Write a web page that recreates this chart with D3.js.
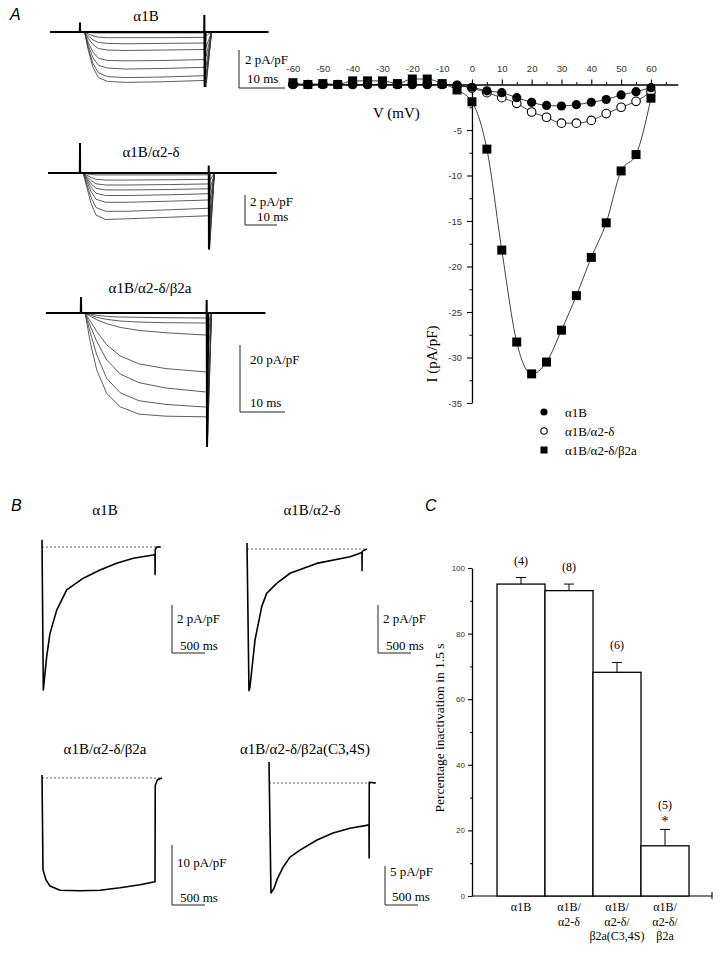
<!DOCTYPE html>
<html>
<head>
<meta charset="utf-8">
<script src="https://cdn.jsdelivr.net/npm/d3@7"></script>
<style>
  body { margin: 0; background: #fff; }
  svg { display: block; }
</style>
</head>
<body>
<svg id="fig" width="720" height="955"></svg>
<script>
// ---------- data ----------

// A: families of current traces, time in ms, current in pA/pF
const a1Time = [1, 1.8, 2.8, 4, 6, 10, 18, 27, 27.4, 28.6];
const a1Traces = [
  [0, -0.02, -0.04, -0.05, -0.05, -0.05, -0.05, -0.05, -0.2, 0],
  [0, -0.1, -0.2, -0.27, -0.3, -0.3, -0.3, -0.28, -0.8, 0],
  [0, -0.2, -0.42, -0.55, -0.6, -0.62, -0.6, -0.58, -1.3, 0],
  [0, -0.33, -0.66, -0.87, -0.95, -0.97, -0.95, -0.92, -1.8, 0],
  [0, -0.55, -1.05, -1.38, -1.5, -1.52, -1.5, -1.45, -2.2, 0],
  [0, -0.7, -1.35, -1.75, -1.9, -1.95, -1.92, -1.86, -2.5, 0],
  [0, -0.85, -1.65, -2.15, -2.35, -2.4, -2.37, -2.3, -2.7, 0],
  [0, -0.95, -1.85, -2.4, -2.6, -2.65, -2.62, -2.55, -2.9, 0]
];
const a1Base = [[-6.5, 0], [-0.05, 0], [0, 0.5], [0.05, 0], [27, 0], [27.03, 0.9], [27.1, -2.9], [27.3, 0], [41, 0]];

const a2Time = [1, 2.2, 3.5, 5, 8, 15, 28, 40.2, 40.5, 42];
const a2Traces = [
  [0, -0.05, -0.1, -0.13, -0.13, -0.13, -0.13, -0.12, -0.5, 0],
  [0, -0.15, -0.3, -0.42, -0.47, -0.47, -0.45, -0.42, -1.2, 0],
  [0, -0.25, -0.5, -0.72, -0.8, -0.8, -0.77, -0.73, -2, 0],
  [0, -0.35, -0.72, -1.02, -1.13, -1.13, -1.1, -1.05, -2.8, 0],
  [0, -0.45, -0.95, -1.35, -1.5, -1.5, -1.45, -1.38, -3.5, 0],
  [0, -0.6, -1.25, -1.75, -1.95, -1.95, -1.88, -1.8, -4.2, 0],
  [0, -0.8, -1.65, -2.3, -2.55, -2.55, -2.45, -2.35, -4.8, 0],
  [0, -1.0, -2.05, -2.8, -3.1, -3.05, -2.95, -2.85, -5.1, 0]
];
const a2Base = [[-10, 0], [-0.05, 0], [0, 2], [0.05, 0], [40.2, 0], [40.23, 0.5], [40.3, -5.1], [40.5, 0], [61.5, 0]];

const a3Time = [0.9, 2.1, 3.5, 5.7, 8.7, 12.9, 18.9, 27.9, 28.1, 29];
const a3Traces = [
  [0, -0.3, -0.7, -1.0, -1.2, -1.3, -1.4, -1.5, -4, 0],
  [0, -0.6, -1.3, -1.9, -2.4, -2.7, -2.9, -3.0, -8, 0],
  [0, -1.0, -2.0, -3.2, -4.3, -5.2, -5.9, -6.6, -15, 0],
  [0, -2.5, -5.5, -9.5, -12.8, -15.2, -16.6, -17.6, -28, 0],
  [0, -4, -8.5, -14, -18.2, -20.8, -22.4, -23.6, -34, 0],
  [0, -6, -12.5, -19.5, -23.8, -26.2, -27.3, -28.1, -38, 0],
  [0, -9, -17, -24, -28, -30.2, -30.8, -31, -40, 0]
];
const a3Base = [[-7.8, 0], [-0.05, 0], [0, 4.8], [0.05, 0], [27.9, 0], [27.93, 3.9], [28.0, -40], [28.3, 0], [41, 0]];

// A: current-voltage relation
const ivVolt = [-60, -55, -50, -45, -40, -35, -30, -25, -20, -15, -10, -5, 0, 5, 10, 15, 20, 25, 30, 35, 40, 45, 50, 55, 60];
const ivA1B = [0, 0, 0, 0, 0, 0, 0, 0, 0, 0, 0, -0.1, -0.3, -0.7, -0.9, -1.45, -1.96, -2.3, -2.36, -2.22, -1.95, -1.65, -1.15, -0.79, -0.35];
const ivA2d = [0, 0, 0, 0, 0, 0, 0, 0, 0, 0, 0, -0.1, -0.4, -0.9, -1.45, -2.07, -3.02, -3.6, -4.25, -4.25, -3.95, -3.2, -2.5, -1.85, -0.8];
const ivB2a = [0.2, 0, 0.1, 0, 0.4, 0.4, 0.4, 0.1, 0.6, 0.6, 0.1, -0.6, -1.9, -7.1, -18.2, -28.3, -31.8, -30.5, -27.0, -23.2, -19.0, -15.2, -9.5, -7.7, -1.5];
const ivMajor = [-60, -50, -40, -30, -20, -10, 0, 10, 20, 30, 40, 50, 60];
const ivMinor = [-55, -45, -35, -25, -15, -5, 5, 15, 25, 35, 45, 55, 65];
const iMajor = [-5, -10, -15, -20, -25, -30, -35];
const iMinor = [-2.5, -7.5, -12.5, -17.5, -22.5, -27.5, -32.5];
const ivNames = ["α1B", "α1B/α2-δ", "α1B/α2-δ/β2a"];

// B: 1.5 s test pulses, time in ms, current in pA/pF
const b1Trace = [[0, 0.3], [20, -5.96], [71, -4.57], [121, -3.6], [223, -2.63], [374, -1.79], [626, -1.3], [879, -0.96],
  [1131, -0.68], [1383, -0.47], [1687, -0.33], [1712, -0.3], [1713, -1.15], [1716, -0.1], [1740, 0], [1800, 0]];
const b2Trace = [[0, 0.25], [30, -5.9], [45, -5.75], [121, -3.8], [223, -2.4], [298, -1.85], [450, -1.43], [652, -1.01],
  [1056, -0.6], [1561, -0.32], [1742, -0.15], [1743, -0.9], [1745, -0.1], [1815, 0]];
const b3Trace = [[0, 0.5], [15, -15.3], [61, -17], [121, -18], [273, -18.7], [576, -18.8], [879, -18.7], [1182, -18.3],
  [1485, -17.8], [1712, -17.3], [1716, -1.2], [1750, -0.3], [1818, 0]];
const b4Trace = [[0, 2.7], [30, -14.1], [76, -13.5], [121, -12.4], [212, -10.8], [318, -9.5], [470, -8.6], [727, -7.3],
  [970, -6.4], [1227, -5.8], [1500, -5.4], [1515, -5.4], [1517, -9.6], [1519, 0.1], [1620, 0]];

// C: percentage inactivation in 1.5 s
const barLines = [["α1B"], ["α1B/", "α2-δ"], ["α1B/", "α2-δ/", "β2a(C3,4S)"], ["α1B/", "α2-δ/", "β2a"]];
const barCats = ["α1B", "α1B/α2-δ", "α1B/α2-δ/β2a(C3,4S)", "α1B/α2-δ/β2a"];
const inact = [95.1, 93.1, 68.2, 15.3];
const inactErr = [2.0, 2.0, 3.0, 5.0];
const nCells = ["(4)", "(8)", "(6)", "(5)"];
const signif = ["", "", "", "*"];
const pctMajor = [0, 20, 40, 60, 80, 100];
const pctMinor = [10, 30, 50, 70, 90];

// ---------- drawing ----------
const serif = '"Liberation Serif", "Times New Roman", serif';
const sans = '"Liberation Sans", Arial, sans-serif';
const svg = d3.select("#fig");

function txt(g, x, y, s, size, opt = {}) {
  return g.append("text").attr("x", x).attr("y", y)
    .attr("font-family", opt.family || serif)
    .attr("font-size", size)
    .attr("font-style", opt.style || "normal")
    .attr("text-anchor", opt.anchor || "start")
    .attr("fill", opt.fill || "#000")
    .text(s);
}

function drawLine(g, pts, xs, ys, width, color, dash) {
  const p = g.append("path").datum(pts)
    .attr("fill", "none").attr("stroke", color).attr("stroke-width", width)
    .attr("stroke-linejoin", "round")
    .attr("d", d3.line().x(d => xs(d[0])).y(d => ys(d[1])));
  if (dash) p.attr("stroke-dasharray", dash);
  return p;
}

function scaleBar(g, xs, ys, b) {
  const h = ys(-b.dI) - ys(0), w = xs(b.dt) - xs(0);
  g.append("path")
    .attr("d", `M${b.x},${b.y - h}V${b.y}H${b.x + w}`)
    .attr("fill", "none").attr("stroke", "#222").attr("stroke-width", 1);
  txt(g, b.l1x, b.l1y, b.lab1, 13);
  txt(g, b.l2x, b.l2y, b.lab2, 13);
}

// panel letters
txt(svg, 10, 20, "A", 16, { family: sans, style: "italic" });
txt(svg, 11, 511, "B", 16, { family: sans, style: "italic" });
txt(svg, 425, 511, "C", 16, { family: sans, style: "italic" });

// ----- A traces -----
const panelsA = [
  { title: "α1B", tx: 146, ty: 21, time: a1Time, traces: a1Traces, base: a1Base,
    xs: d3.scaleLinear().domain([0, 10]).range([80, 126]),
    ys: d3.scaleLinear().domain([0, -2]).range([32, 70]),
    bar: { x: 239, y: 88, dt: 10, dI: 2, lab1: "2 pA/pF", l1x: 245, l1y: 64, lab2: "10 ms", l2x: 247, l2y: 83 } },
  { title: "α1B/α2-δ", tx: 151, ty: 157, time: a2Time, traces: a2Traces, base: a2Base,
    xs: d3.scaleLinear().domain([0, 10]).range([80, 112]),
    ys: d3.scaleLinear().domain([0, -2]).range([173, 203]),
    bar: { x: 245, y: 225, dt: 10, dI: 2, lab1: "2 pA/pF", l1x: 250, l1y: 206, lab2: "10 ms", l2x: 257, l2y: 221 } },
  { title: "α1B/α2-δ/β2a", tx: 150, ty: 293, time: a3Time, traces: a3Traces, base: a3Base,
    xs: d3.scaleLinear().domain([0, 10]).range([81, 126]),
    ys: d3.scaleLinear().domain([0, -20]).range([313, 380]),
    bar: { x: 240, y: 412, dt: 10, dI: 20, lab1: "20 pA/pF", l1x: 250, l1y: 364, lab2: "10 ms", l2x: 250, l2y: 407 } }
];

panelsA.forEach(p => {
  const g = svg.append("g");
  txt(g, p.tx, p.ty, p.title, 15, { anchor: "middle" });
  p.traces.forEach(tr => {
    drawLine(g, p.time.map((t, i) => [t, tr[i]]), p.xs, p.ys, 0.8, "#333");
  });
  drawLine(g, p.base, p.xs, p.ys, 2, "#000").attr("stroke-linejoin", "miter").attr("stroke-miterlimit", 1);
  scaleBar(g, p.xs, p.ys, p.bar);
});

// ----- A: I-V plot -----
const X = d3.scaleLinear().domain([-61, 69]).range([290, 677.8]);
const Y = d3.scaleLinear().domain([0, -35]).range([84.5, 403]);
const gIV = svg.append("g");

function styleAxis(sel, size) {
  sel.select(".domain").attr("stroke", "#000").attr("stroke-width", 1.3);
  sel.selectAll(".tick line").attr("stroke", "#000").attr("stroke-width", 1.1);
  sel.selectAll(".tick text").attr("font-family", sans).attr("font-size", size).attr("fill", "#333");
}

gIV.append("g").attr("transform", `translate(0,${Y(0)})`)
  .call(d3.axisTop(X).tickValues(ivMinor).tickSize(2.5).tickFormat(""))
  .call(s => { s.select(".domain").remove(); s.selectAll("line").attr("stroke", "#000"); });
gIV.append("g").attr("transform", `translate(0,${Y(0)})`)
  .call(d3.axisTop(X).tickValues(ivMajor).tickSize(5).tickSizeOuter(0).tickPadding(8).tickFormat(d => String(d)))
  .call(s => styleAxis(s, 9.5));
gIV.append("g").attr("transform", `translate(${X(0)},0)`)
  .call(d3.axisLeft(Y).tickValues(iMinor).tickSize(2.5).tickFormat(""))
  .call(s => { s.select(".domain").remove(); s.selectAll("line").attr("stroke", "#000"); });
gIV.append("g").attr("transform", `translate(${X(0)},0)`)
  .call(d3.axisLeft(Y).tickValues(iMajor).tickSize(5).tickSizeOuter(0).tickPadding(5).tickFormat(d => String(d)))
  .call(s => styleAxis(s, 9.5));

txt(gIV, 373, 118, "V (mV)", 15);
gIV.append("text")
  .attr("transform", `translate(437,354) rotate(-90)`)
  .attr("text-anchor", "middle").attr("font-family", serif).attr("font-size", 15)
  .text("I (pA/pF)");

const ivSeries = [ivA2d, ivA1B, ivB2a];
const ivLine = d3.line().x(d => X(d[0])).y(d => Y(d[1])).curve(d3.curveMonotoneX);
ivSeries.forEach(s => {
  gIV.append("path").datum(ivVolt.map((v, i) => [v, s[i]]))
    .attr("fill", "none").attr("stroke", "#111").attr("stroke-width", 0.8).attr("d", ivLine);
});
gIV.selectAll("circle.open").data(ivVolt.map((v, i) => [v, ivA2d[i]])).join("circle")
  .attr("class", "open").attr("cx", d => X(d[0])).attr("cy", d => Y(d[1])).attr("r", 4.3)
  .attr("fill", "#fff").attr("stroke", "#000").attr("stroke-width", 1.1);
gIV.selectAll("circle.fill").data(ivVolt.map((v, i) => [v, ivA1B[i]])).join("circle")
  .attr("class", "fill").attr("cx", d => X(d[0])).attr("cy", d => Y(d[1])).attr("r", 4.6)
  .attr("fill", "#000");
gIV.selectAll("rect.sq").data(ivVolt.map((v, i) => [v, ivB2a[i]])).join("rect")
  .attr("class", "sq").attr("x", d => X(d[0]) - 4.5).attr("y", d => Y(d[1]) - 4.5)
  .attr("width", 9).attr("height", 9).attr("fill", "#000");

// legend
const legY = d3.scalePoint().domain(ivNames).range([412, 450]);
const gLeg = gIV.append("g");
gLeg.append("circle").attr("cx", 544).attr("cy", legY(ivNames[0])).attr("r", 3.6).attr("fill", "#000");
gLeg.append("circle").attr("cx", 544).attr("cy", legY(ivNames[1])).attr("r", 3.2)
  .attr("fill", "#fff").attr("stroke", "#000").attr("stroke-width", 1.1);
gLeg.append("rect").attr("x", 540.5).attr("y", legY(ivNames[2]) - 3.5).attr("width", 7).attr("height", 7).attr("fill", "#000");
ivNames.forEach(n => txt(gLeg, 565, legY(n) + 4.5, n, 13));

// ----- B traces -----
const panelsB = [
  { title: "α1B", tx: 105, ty: 515, trace: b1Trace,
    xs: d3.scaleLinear().domain([0, 500]).range([42, 75]),
    ys: d3.scaleLinear().domain([0, -2]).range([547, 595]),
    bar: { x: 172, y: 653, dt: 500, dI: 2, lab1: "2 pA/pF", l1x: 177, l1y: 623, lab2: "500 ms", l2x: 180, l2y: 650 } },
  { title: "α1B/α2-δ", tx: 312, ty: 515, trace: b2Trace,
    xs: d3.scaleLinear().domain([0, 500]).range([247, 280]),
    ys: d3.scaleLinear().domain([0, -2]).range([549, 597]),
    bar: { x: 378, y: 653, dt: 500, dI: 2, lab1: "2 pA/pF", l1x: 383, l1y: 623, lab2: "500 ms", l2x: 386, l2y: 650 } },
  { title: "α1B/α2-δ/β2a", tx: 105, ty: 754, trace: b3Trace,
    xs: d3.scaleLinear().domain([0, 500]).range([42, 75]),
    ys: d3.scaleLinear().domain([0, -10]).range([778, 838]),
    bar: { x: 172, y: 905, dt: 500, dI: 10, lab1: "10 pA/pF", l1x: 177, l1y: 867, lab2: "500 ms", l2x: 180, l2y: 902 } },
  { title: "α1B/α2-δ/β2a(C3,4S)", tx: 305, ty: 754, trace: b4Trace,
    xs: d3.scaleLinear().domain([0, 500]).range([269, 302]),
    ys: d3.scaleLinear().domain([0, -5]).range([783, 822]),
    bar: { x: 385, y: 905, dt: 500, dI: 5, lab1: "5 pA/pF", l1x: 390, l1y: 876, lab2: "500 ms", l2x: 392, l2y: 901 } }
];

panelsB.forEach(p => {
  const g = svg.append("g");
  txt(g, p.tx, p.ty, p.title, 15, { anchor: "middle" });
  const tEnd = p.trace[p.trace.length - 1][0];
  drawLine(g, [[0, 0], [tEnd, 0]], p.xs, p.ys, 0.8, "#333", "2,2");
  drawLine(g, p.trace, p.xs, p.ys, 1.6, "#000");
  scaleBar(g, p.xs, p.ys, p.bar);
});

// ----- C: bar chart -----
const cY = d3.scaleLinear().domain([0, 100]).range([896, 568]);
const cX = d3.scaleBand().domain(barCats).range([497, 689]).padding(0);
const gC = svg.append("g");

gC.append("g").attr("transform", "translate(472,0)")
  .call(d3.axisLeft(cY).tickValues(pctMinor).tickSize(2).tickFormat(""))
  .call(s => { s.select(".domain").remove(); s.selectAll("line").attr("stroke", "#000"); });
gC.append("g").attr("transform", "translate(472,0)")
  .call(d3.axisLeft(cY).tickValues(pctMajor).tickSize(4).tickSizeOuter(0).tickPadding(3).tickFormat(d => String(d)))
  .call(s => styleAxis(s, 8));

gC.append("line").attr("x1", 472).attr("x2", 712).attr("y1", cY(0)).attr("y2", cY(0))
  .attr("stroke", "#000").attr("stroke-width", 1.2);
gC.append("line").attr("x1", 712).attr("x2", 712).attr("y1", cY(0) - 4).attr("y2", cY(0) + 3)
  .attr("stroke", "#000").attr("stroke-width", 1.1);

gC.append("text")
  .attr("transform", "translate(444,728) rotate(-90)")
  .attr("text-anchor", "middle").attr("font-family", serif).attr("font-size", 13.5)
  .text("Percentage inactivation in 1.5 s");

const bars = gC.selectAll("g.bar").data(barCats).join("g").attr("class", "bar");
bars.append("rect")
  .attr("x", d => cX(d)).attr("width", cX.bandwidth())
  .attr("y", (d, i) => cY(inact[i])).attr("height", (d, i) => cY(0) - cY(inact[i]))
  .attr("fill", "#fff").attr("stroke", "#000").attr("stroke-width", 1.3);
bars.append("path")
  .attr("d", (d, i) => {
    const cx = cX(d) + cX.bandwidth() / 2, top = cY(inact[i] + inactErr[i]);
    return `M${cx},${cY(inact[i])}V${top}M${cx - 5},${top}H${cx + 5}`;
  })
  .attr("fill", "none").attr("stroke", "#000").attr("stroke-width", 1);
bars.append("text")
  .attr("x", d => cX(d) + cX.bandwidth() / 2)
  .attr("y", (d, i) => cY(inact[i] + inactErr[i]) - (signif[i] ? 20 : 13))
  .attr("text-anchor", "middle").attr("font-family", serif).attr("font-size", 12)
  .text((d, i) => nCells[i]);
bars.append("text")
  .attr("x", d => cX(d) + cX.bandwidth() / 2)
  .attr("y", (d, i) => cY(inact[i] + inactErr[i]) - 3)
  .attr("text-anchor", "middle").attr("font-family", serif).attr("font-size", 14)
  .text((d, i) => signif[i]);
bars.each(function (d, i) {
  const t = d3.select(this).append("text")
    .attr("text-anchor", "middle").attr("font-family", serif).attr("font-size", 12);
  barLines[i].forEach((ln, k) => {
    t.append("tspan").attr("x", cX(d) + cX.bandwidth() / 2).attr("y", 911 + k * 14.5).text(ln);
  });
});
</script>
</body>
</html>
